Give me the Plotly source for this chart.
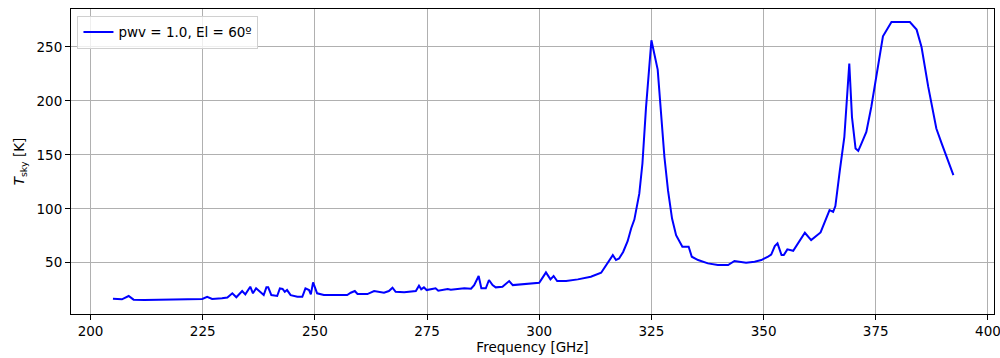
import plotly.graph_objects as go

# Sky brightness temperature spectrum (pwv = 1.0 mm, elevation 60 deg)
freq_ghz = [
    205.0, 207.0, 208.5, 209.6, 212.0, 216.0, 222.3, 224.9, 226.0, 227.1,
    229.3, 230.5, 231.6, 232.5, 233.8, 234.5, 235.6, 236.2, 236.9, 237.9,
    238.6, 239.2, 239.6, 240.3, 241.6, 242.2, 242.8, 243.3, 243.8, 244.6,
    246.1, 247.2, 247.9, 248.7, 249.1, 249.6, 250.5, 252.0, 257.2, 258.0,
    258.9, 259.5, 261.7, 263.2, 264.7, 265.4, 266.5, 267.3, 268.0, 269.9,
    272.5, 273.2, 273.7, 274.3, 274.9, 276.9, 277.5, 279.6, 280.3, 283.3,
    284.8, 285.5, 286.5, 287.1, 288.1, 288.8, 289.6, 290.3, 291.8, 293.3,
    294.1, 295.9, 297.4, 298.5, 300.0, 300.5, 301.5, 302.5, 303.2, 304.0,
    306.0, 308.6, 310.0, 311.5, 313.8, 314.9, 316.4, 317.1, 317.8, 318.7,
    319.7, 320.5, 321.2, 322.3, 323.0, 323.8, 324.6, 325.0, 326.4, 327.2,
    327.9, 328.7, 329.6, 330.5, 331.9, 333.3, 334.0, 335.4, 337.6, 339.8,
    342.1, 343.5, 346.1, 348.0, 349.5, 351.0, 351.7, 352.5, 353.1, 354.0,
    354.5, 355.3, 356.6, 359.2, 360.6, 362.7, 364.7, 365.5, 366.0, 367.0,
    368.0, 369.1, 369.7, 370.5, 371.1, 371.8, 372.9, 374.0, 375.5, 376.6,
    378.5, 382.6, 384.1, 385.2, 386.7, 388.5, 389.7, 392.3,
]
tsky_k = [
    16.7, 16.1, 19.2, 15.8, 15.5, 15.8, 16.1, 16.4, 18.5, 16.4,
    17.0, 17.8, 21.7, 18.0, 23.8, 20.7, 27.8, 21.7, 26.3, 23.1,
    20.1, 27.2, 27.2, 20.1, 19.2, 26.3, 25.7, 23.1, 24.7, 20.0,
    18.5, 18.5, 26.3, 24.7, 20.7, 31.8, 21.7, 20.1, 20.1, 22.2,
    23.8, 21.0, 21.0, 23.8, 23.1, 22.2, 23.8, 26.9, 23.1, 22.6,
    23.8, 28.7, 25.4, 27.2, 24.7, 26.3, 24.0, 25.6, 25.0, 26.3,
    25.9, 29.3, 37.7, 26.3, 26.3, 34.0, 29.3, 27.2, 27.8, 33.0,
    29.3, 30.0, 30.9, 31.5, 31.5, 34.6, 41.1, 34.6, 37.7, 33.0,
    33.0, 34.6, 36.1, 37.0, 40.7, 47.9, 57.1, 52.5, 54.0, 60.0,
    70.0, 82.0, 90.0, 114.0, 142.0, 194.0, 234.6, 256.2, 229.0, 188.0,
    148.0, 117.0, 91.0, 75.6, 64.8, 64.8, 55.6, 52.5, 49.4, 47.9,
    47.9, 51.6, 50.0, 50.9, 52.5, 55.6, 57.5, 65.5, 68.0, 57.1,
    57.1, 62.4, 61.1, 77.8, 71.0, 78.1, 98.8, 97.2, 102.5, 135.8,
    166.7, 234.6, 185.0, 155.9, 153.7, 160.5, 171.3, 194.4, 233.0, 259.9,
    273.1, 273.1, 266.1, 250.0, 213.0, 174.4, 160.5, 131.2,
]

x_ticks = [200, 225, 250, 275, 300, 325, 350, 375, 400]
y_ticks = [50, 100, 150, 200, 250]

FONT = "DejaVu Sans"

fig = go.Figure()
fig.add_trace(go.Scatter(
    x=freq_ghz, y=tsky_k, mode="lines",
    line=dict(color="blue", width=2),
    name="pwv = 1.0, El = 60º",
))

axis_common = dict(
    showline=True, linecolor="black", linewidth=1, mirror=True,
    ticks="outside", ticklen=5, tickwidth=1, tickcolor="black",
    showgrid=True, gridcolor="#b0b0b0", gridwidth=0.8,
    zeroline=False, ticklabeloverflow="allow", automargin=False,
    tickfont=dict(family=FONT, size=13.5, color="black"),
)

fig.update_layout(
    width=1000, height=358,
    margin=dict(l=71, r=6, t=9, b=44),
    paper_bgcolor="white", plot_bgcolor="white",
    font=dict(family=FONT, size=13.5, color="black"),
    showlegend=True,
    legend=dict(
        x=0.007, y=0.978, xanchor="left", yanchor="top",
        bgcolor="rgba(255,255,255,0.8)", bordercolor="#d0d0d0", borderwidth=1,
        font=dict(family=FONT, size=13.5, color="black"),
    ),
    xaxis=dict(
        range=[195.65, 401.35], tickvals=x_ticks,
        ticktext=[str(v) for v in x_ticks],
        title=dict(text="Frequency [GHz]", standoff=4,
                   font=dict(family=FONT, size=13.5)),
        **axis_common,
    ),
    yaxis=dict(
        range=[2.5, 285.2], tickvals=y_ticks,
        ticktext=[str(v) for v in y_ticks],
        title=dict(text="<i>T</i><sub>sky</sub> [K]", standoff=8,
                   font=dict(family=FONT, size=13.5)),
        **axis_common,
    ),
)

fig.write_html("out.html")
